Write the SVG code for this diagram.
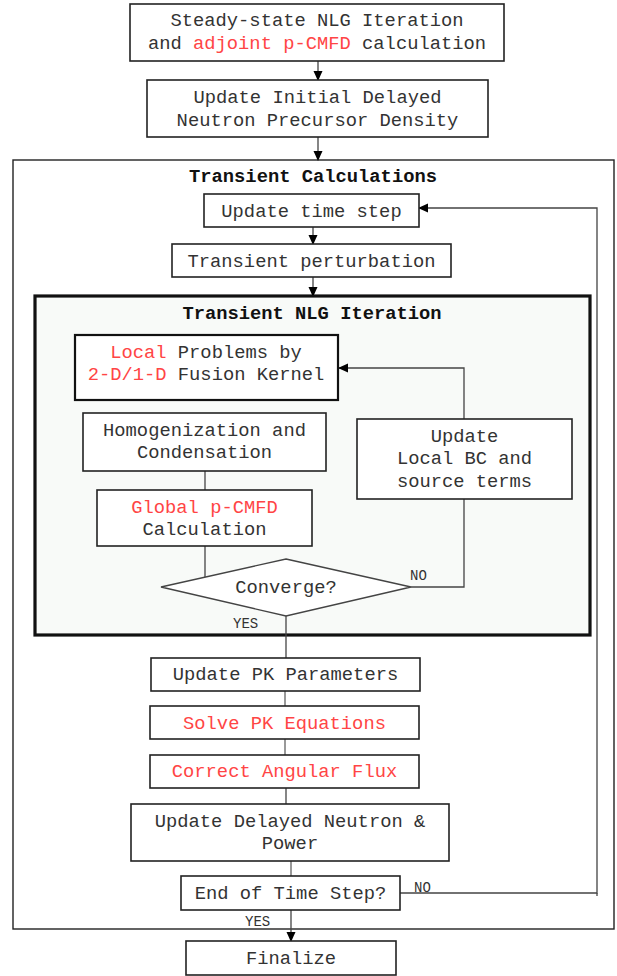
<svg xmlns="http://www.w3.org/2000/svg" width="617" height="976" viewBox="0 0 617 976">
  <style>
    .box { fill: #ffffff; stroke: #222222; stroke-width: 1.6; }
    .boxb { fill: #ffffff; stroke: #111111; stroke-width: 2.2; }
    .frame { fill: #ffffff; stroke: #222222; stroke-width: 1.4; }
    .nlg { fill: #f8faf8; stroke: #111111; stroke-width: 3.2; }
    .t { font-family: "Liberation Mono", "Courier New", monospace; font-size: 18.8px; fill: #333333; text-anchor: middle; }
    .title { font-family: "Liberation Mono", "Courier New", monospace; font-size: 18.8px; font-weight: bold; fill: #111111; text-anchor: middle; }
    .lbl { font-family: "Liberation Mono", "Courier New", monospace; font-size: 14px; fill: #333333; }
    .red { fill: #ff4545; }
    .ln { fill: none; stroke: #444444; stroke-width: 1.3; }
    .lg { fill: none; stroke: #777777; stroke-width: 1.5; }
  </style>
  <defs>
    <marker id="arrow" markerWidth="10" markerHeight="10" refX="9" refY="5" orient="auto" markerUnits="userSpaceOnUse">
      <path d="M0,0.5 L10,5 L0,9.5 Z" fill="#000000"/>
    </marker>
  </defs>

  <!-- containers -->
  <rect id="transient-frame" class="frame" x="13" y="160" width="601" height="769"/>
  <text class="title" x="313" y="182">Transient Calculations</text>
  <rect id="nlg-frame" class="nlg" x="35" y="296" width="555" height="339"/>
  <text class="title" x="312" y="319">Transient NLG Iteration</text>

  <!-- connectors -->
  <g id="connectors">
    <line class="ln" x1="318" y1="61" x2="318" y2="80" marker-end="url(#arrow)"/>
    <line class="ln" x1="318" y1="137" x2="318" y2="160" marker-end="url(#arrow)"/>
    <line class="ln" x1="313" y1="227" x2="313" y2="244" marker-end="url(#arrow)"/>
    <line class="ln" x1="313" y1="277" x2="313" y2="296" marker-end="url(#arrow)"/>
    <line class="ln" x1="205" y1="471" x2="205" y2="490"/>
    <line class="ln" x1="205" y1="546" x2="205" y2="577"/>
    <polyline class="ln" points="411,587 464,587 464,368 339,368" marker-end="url(#arrow)"/>
    <line class="ln" x1="286" y1="616" x2="286" y2="658"/>
    <line class="lg" x1="285" y1="691" x2="285" y2="706"/>
    <line class="lg" x1="285" y1="739" x2="285" y2="755"/>
    <line class="ln" x1="286" y1="788" x2="286" y2="804"/>
    <line class="lg" x1="291" y1="861" x2="291" y2="876"/>
    <line class="ln" x1="291" y1="910" x2="291" y2="941" marker-end="url(#arrow)"/>
    <polyline class="ln" points="400,893 597,893 597,208 419,208" marker-end="url(#arrow)"/>
    <line class="ln" x1="597" y1="893" x2="597" y2="896"/>
    <text class="lbl" x="410" y="580">NO</text>
    <text class="lbl" x="233" y="628">YES</text>
    <text class="lbl" x="414" y="892">NO</text>
    <text class="lbl" x="245" y="926">YES</text>
  </g>

  <!-- nodes -->
  <g id="steady-state">
    <rect class="box" x="130" y="4" width="374" height="57"/>
    <text class="t" x="317" y="26">Steady-state NLG Iteration</text>
    <text class="t" x="317" y="49">and <tspan class="red">adjoint p-CMFD</tspan> calculation</text>
  </g>
  <g id="initial-precursor">
    <rect class="box" x="147" y="80" width="341" height="57"/>
    <text class="t" x="317.5" y="103">Update Initial Delayed</text>
    <text class="t" x="317.5" y="126">Neutron Precursor Density</text>
  </g>
  <g id="update-time-step">
    <rect class="box" x="204" y="194" width="215" height="33"/>
    <text class="t" x="311.5" y="217">Update time step</text>
  </g>
  <g id="transient-perturbation">
    <rect class="box" x="172" y="244" width="279" height="33"/>
    <text class="t" x="311.5" y="267">Transient perturbation</text>
  </g>
  <g id="local-problems">
    <rect class="boxb" x="75" y="335" width="263" height="65"/>
    <text class="t" x="206" y="358"><tspan class="red">Local</tspan> Problems by</text>
    <text class="t" x="206" y="380"><tspan class="red">2-D/1-D</tspan> Fusion Kernel</text>
  </g>
  <g id="homogenization">
    <rect class="box" x="83" y="413" width="243" height="58"/>
    <text class="t" x="204.5" y="436">Homogenization and</text>
    <text class="t" x="204.5" y="458">Condensation</text>
  </g>
  <g id="global-cmfd">
    <rect class="box" x="97" y="490" width="215" height="56"/>
    <text class="t" x="204.5" y="513"><tspan class="red">Global p-CMFD</tspan></text>
    <text class="t" x="204.5" y="535">Calculation</text>
  </g>
  <g id="update-local-bc">
    <rect class="box" x="357" y="419" width="215" height="80"/>
    <text class="t" x="464.5" y="442">Update</text>
    <text class="t" x="464.5" y="464">Local BC and</text>
    <text class="t" x="464.5" y="487">source terms</text>
  </g>
  <g id="converge">
    <polygon points="286,559 411,587 286,616 161,587" fill="#ffffff" stroke="#444444" stroke-width="1.3"/>
    <text class="t" x="286" y="593">Converge?</text>
  </g>
  <g id="update-pk-parameters">
    <rect class="box" x="151" y="658" width="269" height="33"/>
    <text class="t" x="285.5" y="680">Update PK Parameters</text>
  </g>
  <g id="solve-pk">
    <rect class="box" x="150" y="706" width="269" height="33"/>
    <text class="t red" x="284.5" y="729">Solve PK Equations</text>
  </g>
  <g id="correct-flux">
    <rect class="box" x="150" y="755" width="269" height="33"/>
    <text class="t red" x="284.5" y="777">Correct Angular Flux</text>
  </g>
  <g id="update-delayed">
    <rect class="box" x="131" y="804" width="318" height="57"/>
    <text class="t" x="290" y="827">Update Delayed Neutron &amp;</text>
    <text class="t" x="290" y="849">Power</text>
  </g>
  <g id="end-of-time-step">
    <rect class="box" x="181" y="876" width="219" height="34"/>
    <text class="t" x="290.5" y="899">End of Time Step?</text>
  </g>
  <g id="finalize">
    <rect class="box" x="186" y="941" width="210" height="34"/>
    <text class="t" x="291" y="964">Finalize</text>
  </g>
</svg>
